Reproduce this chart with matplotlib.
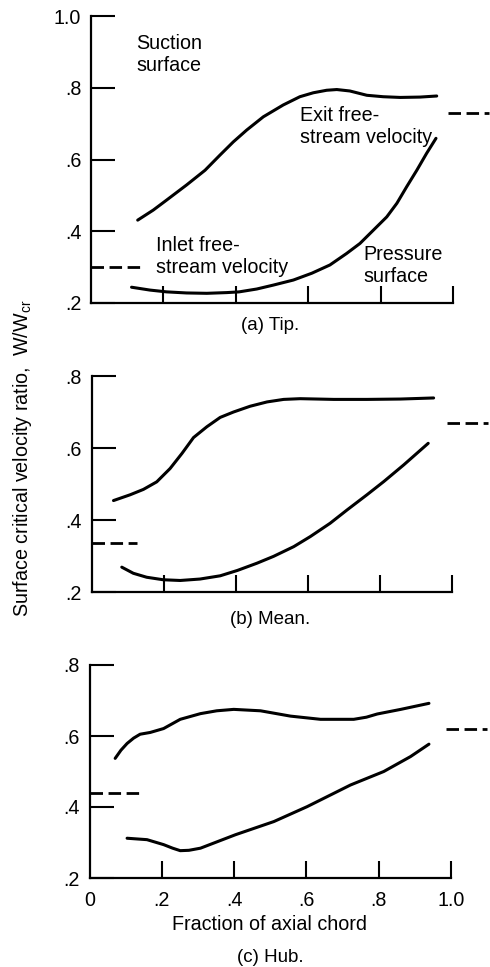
import matplotlib
matplotlib.use("Agg")
import matplotlib.pyplot as plt

plt.rcParams["font.family"] = ["Liberation Sans", "DejaVu Sans"]

# (a) Tip
tip_suction_x = [0.129, 0.172, 0.209, 0.264, 0.315, 0.356, 0.393, 0.430, 0.476, 0.531,
                 0.577, 0.614, 0.651, 0.679, 0.715, 0.762, 0.807, 0.854, 0.909, 0.955]
tip_suction_y = [0.431, 0.459, 0.487, 0.529, 0.570, 0.612, 0.649, 0.682, 0.719, 0.752,
                 0.775, 0.786, 0.793, 0.795, 0.791, 0.779, 0.775, 0.773, 0.774, 0.777]
tip_pressure_x = [0.112, 0.163, 0.209, 0.264, 0.320, 0.375, 0.409, 0.458, 0.504, 0.559,
                  0.610, 0.660, 0.706, 0.743, 0.780, 0.817, 0.845, 0.872, 0.900, 0.927,
                  0.953]
tip_pressure_y = [0.244, 0.236, 0.231, 0.228, 0.227, 0.229, 0.231, 0.239, 0.250, 0.264,
                  0.283, 0.306, 0.338, 0.366, 0.403, 0.440, 0.478, 0.524, 0.570, 0.617,
                  0.659]
tip_inlet = 0.301
tip_exit = 0.729

# (b) Mean
mean_suction_x = [0.061, 0.107, 0.144, 0.181, 0.218, 0.251, 0.283, 0.320, 0.357, 0.394,
                  0.440, 0.487, 0.533, 0.579, 0.626, 0.672, 0.764, 0.857, 0.949]
mean_suction_y = [0.454, 0.470, 0.485, 0.506, 0.543, 0.585, 0.629, 0.659, 0.685, 0.700,
                  0.716, 0.728, 0.735, 0.737, 0.736, 0.735, 0.735, 0.736, 0.739]
mean_pressure_x = [0.084, 0.116, 0.153, 0.199, 0.246, 0.301, 0.357, 0.405, 0.459, 0.505,
                   0.561, 0.607, 0.662, 0.709, 0.764, 0.811, 0.866, 0.934]
mean_pressure_y = [0.269, 0.252, 0.241, 0.234, 0.232, 0.236, 0.245, 0.260, 0.280, 0.299,
                   0.326, 0.354, 0.391, 0.428, 0.470, 0.507, 0.553, 0.613]
mean_inlet = 0.336
mean_exit = 0.67

# (c) Hub
hub_suction_x = [0.071, 0.087, 0.104, 0.122, 0.14, 0.168, 0.205, 0.251, 0.307, 0.352,
                 0.399, 0.473, 0.556, 0.639, 0.731, 0.766, 0.796, 0.861, 0.939]
hub_suction_y = [0.537, 0.560, 0.579, 0.594, 0.605, 0.610, 0.621, 0.647, 0.663, 0.671,
                 0.675, 0.671, 0.656, 0.647, 0.647, 0.653, 0.662, 0.675, 0.692]
hub_pressure_x = [0.104, 0.159, 0.205, 0.230, 0.251, 0.275, 0.307, 0.404, 0.51, 0.602,
                  0.722, 0.814, 0.888, 0.939]
hub_pressure_y = [0.312, 0.308, 0.294, 0.284, 0.277, 0.278, 0.284, 0.322, 0.359, 0.401,
                  0.462, 0.5, 0.542, 0.577]
hub_inlet = 0.439
hub_exit = 0.619

inlet_span = [(0.0, 0.135), (0.0, 0.125), (0.0, 0.14)]
exit_span = (0.985, 1.10)

x_ticks = [0, 0.2, 0.4, 0.6, 0.8, 1.0]
x_labels = ["0", ".2", ".4", ".6", ".8", "1.0"]

W, H = 490, 967
fig = plt.figure(figsize=(W / 100, H / 100), dpi=100)

FS = 14.2
LW = 2.2
DASH = (4.5, 2.0)

panels = [
    dict(rect=(91, 16, 453, 303), ymax=1.0, sx=tip_suction_x, sy=tip_suction_y,
         px=tip_pressure_x, py=tip_pressure_y, inlet=tip_inlet, exit=tip_exit,
         caption="(a) Tip.", cap_y=325),
    dict(rect=(91.5, 376, 452, 592), ymax=0.8, sx=mean_suction_x, sy=mean_suction_y,
         px=mean_pressure_x, py=mean_pressure_y, inlet=mean_inlet, exit=mean_exit,
         caption="(b) Mean.", cap_y=620),
    dict(rect=(89.5, 665, 451, 878), ymax=0.8, sx=hub_suction_x, sy=hub_suction_y,
         px=hub_pressure_x, py=hub_pressure_y, inlet=hub_inlet, exit=hub_exit,
         caption="(c) Hub.", cap_y=958),
]

axes = []
for i, p in enumerate(panels):
    l, t, r, b = p["rect"]
    ax = fig.add_axes([l / W, 1 - b / H, (r - l) / W, (b - t) / H])
    ax.set_xlim(0, 1.0)
    ax.set_ylim(0.2, p["ymax"])
    for side in ("top", "right"):
        ax.spines[side].set_visible(False)
    for side in ("left", "bottom"):
        ax.spines[side].set_linewidth(1.6)

    ax.plot(p["sx"], p["sy"], color="black", lw=LW, solid_capstyle="round",
            solid_joinstyle="round")
    ax.plot(p["px"], p["py"], color="black", lw=LW, solid_capstyle="round",
            solid_joinstyle="round")
    ax.plot(inlet_span[i], [p["inlet"]] * 2, color="black", lw=2.0,
            dashes=DASH, clip_on=False)
    ax.plot(exit_span, [p["exit"]] * 2, color="black", lw=2.0,
            dashes=DASH, clip_on=False)

    yt = [0.2, 0.4, 0.6, 0.8] + ([1.0] if p["ymax"] == 1.0 else [])
    ax.set_yticks(yt)
    ax.set_yticklabels(["." + f"{v:.1f}"[2:] if v < 1 else "1.0" for v in yt], fontsize=FS)
    ax.set_xticks(x_ticks)
    ax.tick_params(axis="y", direction="in", length=17, width=1.5, pad=7)
    ax.tick_params(axis="x", direction="in", length=12, width=1.5, pad=9)
    if i < 2:
        ax.set_xticklabels([])
    else:
        ax.set_xticklabels(x_labels, fontsize=FS)
    ax.xaxis.get_major_ticks()[0].tick1line.set_visible(False)

    fig.text(270 / W, 1 - p["cap_y"] / H, p["caption"], ha="center", va="center",
             fontsize=FS - 0.7)
    axes.append(ax)

ax_a = axes[0]
ax_a.text(0.126, 0.893, "Suction\nsurface", fontsize=FS, va="center", ha="left",
          linespacing=1.2)
ax_a.text(0.578, 0.692, "Exit free-\nstream velocity", fontsize=FS, va="center",
          ha="left", linespacing=1.2)
ax_a.text(0.18, 0.33, "Inlet free-\nstream velocity", fontsize=FS, va="center",
          ha="left", linespacing=1.2)
ax_a.text(0.752, 0.305, "Pressure\nsurface", fontsize=FS, va="center", ha="left",
          linespacing=1.2)

fig.text(270 / W, 1 - 924 / H, "Fraction of axial chord", ha="center", va="center",
         fontsize=FS)
fig.text(23 / W, 1 - 458 / H, r"Surface critical velocity ratio,  W/W$_{\mathregular{cr}}$",
         rotation=90, ha="center", va="center", fontsize=FS)

fig.savefig("out.png", dpi=100)
